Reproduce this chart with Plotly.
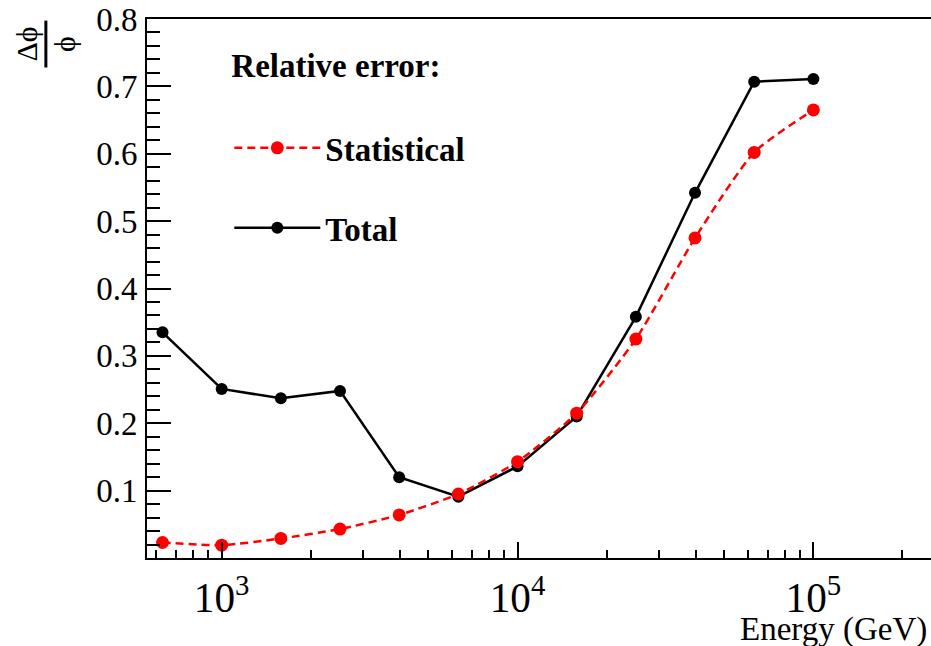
import plotly.graph_objects as go

# Data (energy in GeV, relative errors)
energy = [631, 1000, 1585, 2512, 3981, 6310, 10000, 15849, 25119, 39811, 63096, 100000]
total_err = [0.335, 0.251, 0.237, 0.248, 0.120, 0.091, 0.136, 0.210, 0.358, 0.542, 0.707, 0.711]
stat_err = [0.023, 0.019, 0.029, 0.043, 0.064, 0.095, 0.143, 0.215, 0.325, 0.475, 0.602, 0.665]
y_ticks = [0.1, 0.2, 0.3, 0.4, 0.5, 0.6, 0.7, 0.8]
y_tick_text = ["0.1", "0.2", "0.3", "0.4", "0.5", "0.6", "0.7", "0.8"]

FONT = "Liberation Serif, Times New Roman, serif"

fig = go.Figure()

fig.add_trace(go.Scatter(
    x=energy, y=total_err, mode="lines+markers", name="<b>Total</b>",
    line=dict(color="black", width=2.5),
    marker=dict(color="black", size=12),
    legendrank=2, legendgroup="t",
))
fig.add_trace(go.Scatter(
    x=energy, y=stat_err, mode="lines+markers", name="<b>Statistical</b>",
    line=dict(color="#ff0000", width=2.5, dash="8px,5px", shape="spline", smoothing=0.6),
    marker=dict(color="#ff0000", size=13),
    legendrank=1, legendgroup="s",
))

fig.update_layout(
    width=931, height=646,
    margin=dict(l=147, r=0, t=19, b=88),
    paper_bgcolor="white", plot_bgcolor="white",
    font=dict(family=FONT, size=33, color="black"),
    showlegend=True,
    legend=dict(
        x=0.105, y=0.972, xanchor="left", yanchor="top",
        bgcolor="rgba(0,0,0,0)", borderwidth=0,
        title=dict(text="<b>Relative error:</b><br> ", font=dict(family=FONT, size=33)),
        font=dict(family=FONT, size=33),
        tracegroupgap=34, itemwidth=86,
    ),
    xaxis=dict(
        type="log", range=[2.7476, 5.3976],
        dtick=1, exponentformat="power", showexponent="all",
        ticks="inside", ticklen=16, tickwidth=1.5, tickcolor="black",
        showline=True, linecolor="black", linewidth=2, mirror=True,
        showgrid=False, zeroline=False,
        tickfont=dict(family=FONT, size=33),
        ticklabelstandoff=4,
        minor=dict(dtick="D1", ticks="inside", ticklen=8, tickwidth=1.5, tickcolor="black", showgrid=False),
    ),
    yaxis=dict(
        range=[0, 0.8],
        tickvals=y_ticks, ticktext=y_tick_text,
        ticks="inside", ticklen=24, tickwidth=1.5, tickcolor="black",
        showline=True, linecolor="black", linewidth=2, mirror=False,
        showgrid=False, zeroline=False,
        tickfont=dict(family=FONT, size=33),
        ticklabelstandoff=1,
        minor=dict(dtick=0.02, tick0=0, ticks="inside", ticklen=13, tickwidth=1.5, tickcolor="black", showgrid=False),
    ),
)

# x-axis title, right aligned (ROOT style)
fig.add_annotation(
    text="Energy (GeV)", xref="paper", yref="paper", x=0.997, y=-0.133,
    xanchor="right", yanchor="middle", showarrow=False,
    font=dict(family=FONT, size=33),
)

# y-axis title: fraction  Δϕ / ϕ, rotated
fig.add_annotation(
    text="Δϕ", xref="paper", yref="paper", x=-0.154, y=0.953,
    xanchor="center", yanchor="middle", textangle=-90, showarrow=False,
    font=dict(family=FONT, size=30),
)
fig.add_annotation(
    text="ϕ", xref="paper", yref="paper", x=-0.105, y=0.953,
    xanchor="center", yanchor="middle", textangle=-90, showarrow=False,
    font=dict(family=FONT, size=30),
)
fig.add_shape(
    type="line", xref="paper", yref="paper",
    x0=-0.129, x1=-0.129, y0=0.91, y1=0.997,
    line=dict(color="black", width=3),
)

fig.write_html("out.html", config={"displayModeBar": False},
               post_script="document.body.style.margin='0';")
